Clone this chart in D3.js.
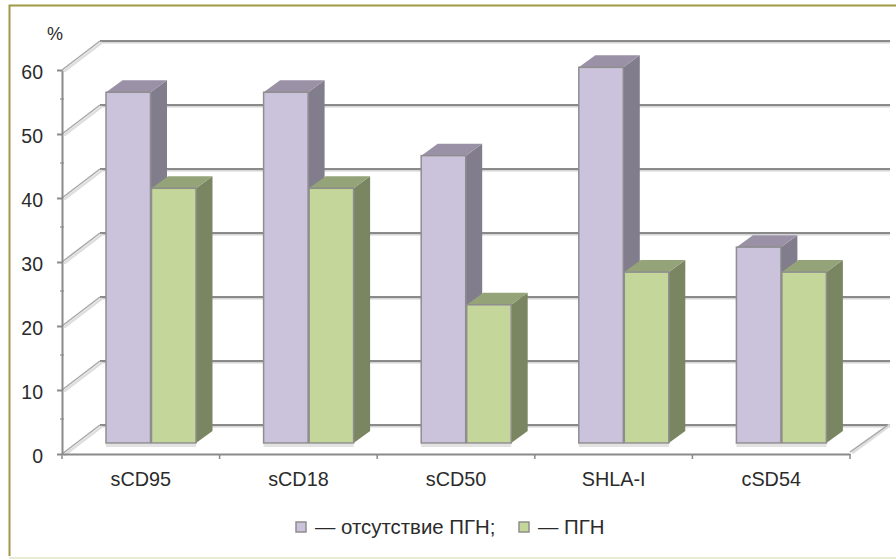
<!DOCTYPE html>
<html>
<head>
<meta charset="utf-8">
<script src="https://cdn.jsdelivr.net/npm/d3@7"></script>
<style>
html, body { margin: 0; padding: 0; background: #fff; }
text { font-family: "Liberation Sans", Arial, sans-serif; fill: #2b2b2b; }
</style>
</head>
<body>
<div id="chart"></div>
<script>
var categories = ['sCD95', 'sCD18', 'sCD50', 'SHLA-I', 'cSD54'];
var absent = [54.8, 54.8, 44.9, 58.7, 30.6];
var present = [39.8, 39.8, 21.6, 26.7, 26.7];
var ticks = [0, 10, 20, 30, 40, 50, 60];
var legendLabels = ['— отсутствие ПГН;', '— ПГН'];

var width = 896, height = 559;

// front plane of the 3d box
var x0 = 62, x1 = 850, yBase = 454, yTop = 70;
// depth of the box walls and of the bars
var depthX = 38, depthY = -29;
var barDx = 16.5, barDy = -12, barLift = 11;

var xScale = d3.scaleBand().domain(categories).range([x0, x1]);
var yScale = d3.scaleLinear().domain([0, 60]).range([yBase, yTop]);

var svg = d3.select('#chart').append('svg')
    .attr('width', width)
    .attr('height', height)
    .style('display', 'block');

svg.append('rect').attr('width', width).attr('height', height).attr('fill', '#fff');

// page frame
svg.append('path')
    .attr('d', 'M896,5.5H9.5V556')
    .attr('fill', 'none').attr('stroke', '#a09a45').attr('stroke-width', 2);
svg.append('line')
    .attr('x1', 9).attr('x2', width).attr('y1', 558).attr('y2', 558)
    .attr('stroke', '#e9ebd2').attr('stroke-width', 2);

// gridlines on the back wall, with the side wall slants
var grid = svg.append('g');
ticks.forEach(function(t) {
    var y = yScale(t);
    grid.append('line')
        .attr('x1', x0 + depthX).attr('x2', x1 + depthX + 2)
        .attr('y1', y + depthY + 1.5).attr('y2', y + depthY + 1.5)
        .attr('stroke', '#d4d4d4').attr('stroke-width', 2);
    grid.append('line')
        .attr('x1', x0 + depthX).attr('x2', x1 + depthX + 2)
        .attr('y1', y + depthY).attr('y2', y + depthY)
        .attr('stroke', '#8a8a8a').attr('stroke-width', 2);
    grid.append('line')
        .attr('x1', x0 + 2).attr('x2', x0 + depthX + 2)
        .attr('y1', y + 1.5).attr('y2', y + depthY + 1.5)
        .attr('stroke', '#dedede').attr('stroke-width', 2.5);
    grid.append('line')
        .attr('x1', x0).attr('x2', x0 + depthX)
        .attr('y1', y).attr('y2', y + depthY)
        .attr('stroke', '#a6a6a6').attr('stroke-width', 1.5);
    // little marks where the back lines meet the axis
    if (t > 0) {
        grid.append('line')
            .attr('x1', x0 - 2).attr('x2', x0 + 2)
            .attr('y1', y - depthY).attr('y2', y - depthY)
            .attr('stroke', '#a6a6a6').attr('stroke-width', 1.5);
    }
});
// right floor edge
grid.append('line')
    .attr('x1', x1 + 2).attr('x2', x1 + depthX + 2)
    .attr('y1', yBase - 1).attr('y2', yBase + depthY)
    .attr('stroke', '#dedede').attr('stroke-width', 3);
grid.append('line')
    .attr('x1', x1).attr('x2', x1 + depthX)
    .attr('y1', yBase - 2).attr('y2', yBase + depthY)
    .attr('stroke', '#a6a6a6').attr('stroke-width', 1.5);

// y axis
var yAxis = d3.axisLeft(yScale).tickValues(ticks).tickSize(5).tickSizeOuter(0).tickPadding(14);
var yG = svg.append('g').attr('transform', 'translate(' + x0 + ',0)').call(yAxis);
yG.selectAll('path,line').attr('stroke', '#8a8a8a').attr('stroke-width', 2);
yG.selectAll('text').attr('font-size', 19.5).attr('dy', '0.46em').style('fill', '#2b2b2b');

// x axis
var xAxis = d3.axisBottom(xScale).tickSize(0).tickSizeOuter(0).tickPadding(18);
var xG = svg.append('g').attr('transform', 'translate(0,' + yBase + ')').call(xAxis);
xG.select('.domain').attr('stroke', '#8a8a8a').attr('stroke-width', 2);
xG.selectAll('text').attr('font-size', 19.8).style('fill', '#2b2b2b');
var xEdges = categories.map(function(c) { return xScale(c); }).concat([x1]);
xG.selectAll('.edge').data(xEdges).enter().append('line')
    .attr('class', 'edge')
    .attr('x1', function(d) { return d; }).attr('x2', function(d) { return d; })
    .attr('y1', 0).attr('y2', 5)
    .attr('stroke', '#8a8a8a').attr('stroke-width', 1.5);

// draws one 3d bar
function drawBar(g, x, w, value, front, top, side) {
    var yT = yScale(value) - barLift;
    var yB = yBase - barLift;
    g.append('path')
        .attr('d', 'M' + (x + w) + ',' + yT + 'l' + barDx + ',' + barDy + 'V' + (yB + barDy) + 'l' + (-barDx) + ',' + (-barDy) + 'Z')
        .attr('fill', side);
    g.append('path')
        .attr('d', 'M' + x + ',' + yT + 'l' + barDx + ',' + barDy + 'H' + (x + w + barDx) + 'l' + (-barDx) + ',' + (-barDy) + 'Z')
        .attr('fill', top);
    g.append('rect')
        .attr('x', x).attr('y', yT).attr('width', w).attr('height', yB - yT)
        .attr('fill', front).attr('stroke', '#8e8e8e').attr('stroke-width', 1.5);
}

// floor shadow under the bars
var barWidth = 44.5, barOffset = 44;
var bars = svg.append('g');
categories.forEach(function(c, i) {
    var x = xScale(c) + barOffset;
    bars.append('rect')
        .attr('x', x).attr('y', yBase - barLift + 1)
        .attr('width', barWidth * 2 + 1).attr('height', 3)
        .attr('fill', '#e2e2e2');
    drawBar(bars, x, barWidth, absent[i], '#cbc2dc', '#9b91a7', '#827d8d');
    drawBar(bars, x + barWidth + 1, barWidth, present[i], '#c5d69b', '#95a378', '#7a8662');
});

// % label
svg.append('text').attr('x', 47).attr('y', 40).attr('font-size', 18).text('%');

// legend
var legendX = [296, 519];
var legendColors = ['#cbc2dc', '#c5d69b'];
var legend = svg.append('g');
legendLabels.forEach(function(l, i) {
    legend.append('rect')
        .attr('x', legendX[i]).attr('y', 522).attr('width', 10).attr('height', 10)
        .attr('fill', legendColors[i]).attr('stroke', '#8e8e8e').attr('stroke-width', 1.5);
    legend.append('text')
        .attr('x', legendX[i] + 19).attr('y', 534)
        .attr('font-size', 20.4).text(l);
});
</script>
</body>
</html>
